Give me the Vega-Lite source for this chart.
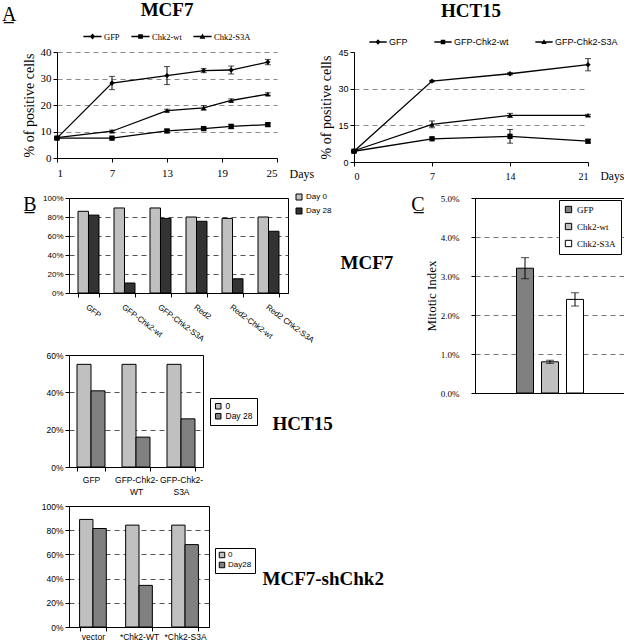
{
 "$schema": "https://vega.github.io/schema/vega-lite/v6.json",
 "background": "white",
 "padding": {"left": 2, "top": 1, "right": 0, "bottom": 0},
 "config": {
  "view": {"stroke": null},
  "font": "Liberation Serif",
  "axis": {"domainColor": "black", "tickColor": "black", "labelColor": "black", "titleColor": "black", "titleFontWeight": "normal", "grid": false},
  "legend": {"labelColor": "black"},
  "title": {"font": "Liberation Serif", "fontWeight": "bold", "color": "black"},
  "text": {"color": "black"}
 },
 "spacing": 10,
 "resolve": {"scale": {"color": "independent", "shape": "independent", "xOffset": "independent"}, "legend": {"color": "independent", "shape": "independent"}},
 "vconcat": [
  {
   "spacing": 5,
   "resolve": {"scale": {"color": "independent", "shape": "independent", "xOffset": "independent"}, "legend": {"color": "independent", "shape": "independent"}},
   "hconcat": [
    {"width": 1, "height": 1,
     "title": {"text": "A\u0332", "anchor": "start", "fontWeight": "normal", "fontSize": 20, "offset": 22},
     "data": {"values": [{"t": ""}]},
     "mark": {"type": "text"},
     "encoding": {"text": {"field": "t", "type": "nominal"}}},
    {
     "width": 220, "height": 106,
     "title": {"text": "MCF7", "fontSize": 19, "offset": 7},
     "data": {"values": [
      {"day": 1, "s": "GFP", "v": 7.5, "e": 0.3},
      {"day": 7, "s": "GFP", "v": 28.3, "e": 2.5},
      {"day": 13, "s": "GFP", "v": 31.1, "e": 3.4},
      {"day": 17, "s": "GFP", "v": 33.0, "e": 0.8},
      {"day": 20, "s": "GFP", "v": 33.2, "e": 1.5},
      {"day": 24, "s": "GFP", "v": 36.2, "e": 1.0},
      {"day": 1, "s": "Chk2-wt", "v": 7.5, "e": 0.3},
      {"day": 7, "s": "Chk2-wt", "v": 7.5, "e": 0.3},
      {"day": 13, "s": "Chk2-wt", "v": 10.2, "e": 0.6},
      {"day": 17, "s": "Chk2-wt", "v": 11.1, "e": 0.5},
      {"day": 20, "s": "Chk2-wt", "v": 11.9, "e": 0.8},
      {"day": 24, "s": "Chk2-wt", "v": 12.6, "e": 0.6},
      {"day": 1, "s": "Chk2-S3A", "v": 7.7, "e": 0.3},
      {"day": 7, "s": "Chk2-S3A", "v": 10.1, "e": 0.4},
      {"day": 13, "s": "Chk2-S3A", "v": 17.9, "e": 0.5},
      {"day": 17, "s": "Chk2-S3A", "v": 18.9, "e": 0.8},
      {"day": 20, "s": "Chk2-S3A", "v": 21.7, "e": 0.6},
      {"day": 24, "s": "Chk2-S3A", "v": 24.1, "e": 0.5}
     ]},
     "encoding": {
      "x": {"field": "day", "type": "quantitative", "scale": {"domain": [1, 25], "nice": false, "zero": false},
       "axis": {"values": [1, 7, 13, 19, 25], "labelFont": "Liberation Serif", "labelFontSize": 11, "labelPadding": 5, "tickSize": 4,
        "title": "Days", "titleFont": "Liberation Serif", "titleFontSize": 12, "titleX": 232, "titleY": 15, "titleAlign": "left", "titleBaseline": "middle"}},
      "y": {"field": "v", "type": "quantitative", "scale": {"domain": [0, 40], "nice": false},
       "axis": {"values": [0, 10, 20, 30, 40], "grid": true, "gridDash": [5, 4], "gridColor": "#8a8a8a",
        "gridOpacity": {"condition": {"test": "datum.value === 0", "value": 0}, "value": 1},
        "labelFont": "Liberation Serif", "labelFontSize": 11, "tickSize": 4,
        "title": "% of positive cells", "titleFont": "Liberation Serif", "titleFontSize": 14, "titlePadding": 4}}
     },
     "resolve": {"scale": {"shape": "independent"}, "legend": {"shape": "independent"}},
     "layer": [
      {"mark": {"type": "line", "color": "black", "strokeWidth": 1.3}, "encoding": {"detail": {"field": "s"}}},
      {"mark": {"type": "errorbar", "ticks": {"size": 6, "color": "black"}, "rule": {"color": "black"}}, "encoding": {"yError": {"field": "e"}, "detail": {"field": "s"}}},
      {"mark": {"type": "point", "filled": true, "opacity": 1, "color": "black", "size": 28},
       "encoding": {"shape": {"field": "s", "type": "nominal", "legend": null,
        "scale": {"domain": ["GFP", "Chk2-wt", "Chk2-S3A"], "range": ["diamond", "square", "triangle-up"]}}}},
      {"transform": [{"filter": "false"}],
       "mark": {"type": "point", "filled": true, "opacity": 1, "color": "black"},
       "encoding": {"shape": {"field": "s", "type": "nominal",
        "scale": {"domain": ["GFP", "Chk2-wt", "Chk2-S3A"], "range": [
         "M-1,-0.075H1V0.075H-1ZM0,-0.33L0.3,0L0,0.33L-0.3,0Z",
         "M-1,-0.075H1V0.075H-1ZM-0.26,-0.26H0.26V0.26H-0.26Z",
         "M-1,-0.075H1V0.075H-1ZM0,-0.33L0.32,0.24H-0.32Z"]},
        "legend": {"orient": "none", "legendX": 26, "legendY": -25, "direction": "horizontal", "title": null,
         "labelFont": "Liberation Serif", "labelFontSize": 8.5, "symbolSize": 330, "symbolFillColor": "black", "symbolStrokeWidth": 0, "columnPadding": 11, "labelOffset": 2}}}}
     ]
    },
    {
     "width": 234, "height": 110,
     "title": {"text": "HCT15", "fontSize": 19, "offset": 12},
     "data": {"values": [
      {"day": 0, "s": "GFP", "v": 4.4, "e": 0.3},
      {"day": 7, "s": "GFP", "v": 33.1, "e": 0.3},
      {"day": 14, "s": "GFP", "v": 36.1, "e": 0.4},
      {"day": 21, "s": "GFP", "v": 39.8, "e": 2.5},
      {"day": 0, "s": "GFP-Chk2-wt", "v": 4.4, "e": 0.3},
      {"day": 7, "s": "GFP-Chk2-wt", "v": 9.5, "e": 0.3},
      {"day": 14, "s": "GFP-Chk2-wt", "v": 10.5, "e": 2.8},
      {"day": 21, "s": "GFP-Chk2-wt", "v": 8.5, "e": 0.7},
      {"day": 0, "s": "GFP-Chk2-S3A", "v": 4.6, "e": 0.3},
      {"day": 7, "s": "GFP-Chk2-S3A", "v": 15.4, "e": 1.4},
      {"day": 14, "s": "GFP-Chk2-S3A", "v": 19.1, "e": 0.8},
      {"day": 21, "s": "GFP-Chk2-S3A", "v": 19.1, "e": 0.4}
     ]},
     "encoding": {
      "x": {"field": "day", "type": "quantitative", "scale": {"domain": [0, 21], "nice": false, "zero": false},
       "axis": {"values": [0, 7, 14, 21], "labelFont": "Liberation Serif", "labelFontSize": 10, "labelPadding": 5, "tickSize": 4,
        "title": "Days", "titleFont": "Liberation Serif", "titleFontSize": 11.5, "titleX": 246, "titleY": 14, "titleAlign": "left", "titleBaseline": "middle"}},
      "y": {"field": "v", "type": "quantitative", "scale": {"domain": [0, 45], "nice": false},
       "axis": {"values": [0, 15, 30, 45], "grid": true, "gridDash": [5, 4], "gridColor": "#8a8a8a",
        "gridOpacity": {"condition": {"test": "datum.value === 0 || datum.value === 45", "value": 0}, "value": 1},
        "labelFont": "Liberation Sans", "labelFontSize": 9, "tickSize": 4,
        "title": "% of positive cells", "titleFont": "Liberation Serif", "titleFontSize": 14, "titlePadding": 4}}
     },
     "resolve": {"scale": {"shape": "independent"}, "legend": {"shape": "independent"}},
     "layer": [
      {"mark": {"type": "line", "color": "black", "strokeWidth": 1.3}, "encoding": {"detail": {"field": "s"}}},
      {"mark": {"type": "errorbar", "ticks": {"size": 6, "color": "black"}, "rule": {"color": "black"}}, "encoding": {"yError": {"field": "e"}, "detail": {"field": "s"}}},
      {"mark": {"type": "point", "filled": true, "opacity": 1, "color": "black", "size": 28},
       "encoding": {"shape": {"field": "s", "type": "nominal", "legend": null,
        "scale": {"domain": ["GFP", "GFP-Chk2-wt", "GFP-Chk2-S3A"], "range": ["diamond", "square", "triangle-up"]}}}},
      {"transform": [{"filter": "false"}],
       "mark": {"type": "point", "filled": true, "opacity": 1, "color": "black"},
       "encoding": {"shape": {"field": "s", "type": "nominal",
        "scale": {"domain": ["GFP", "GFP-Chk2-wt", "GFP-Chk2-S3A"], "range": [
         "M-1,-0.075H1V0.075H-1ZM0,-0.33L0.3,0L0,0.33L-0.3,0Z",
         "M-1,-0.075H1V0.075H-1ZM-0.26,-0.26H0.26V0.26H-0.26Z",
         "M-1,-0.075H1V0.075H-1ZM0,-0.33L0.32,0.24H-0.32Z"]},
        "legend": {"orient": "none", "legendX": 15, "legendY": -19, "direction": "horizontal", "title": null,
         "labelFont": "Liberation Sans", "labelFontSize": 9, "symbolSize": 300, "symbolFillColor": "black", "symbolStrokeWidth": 0, "columnPadding": 26, "labelOffset": 2}}}}
     ]
    }
   ]
  },
  {
   "spacing": 16,
   "resolve": {"scale": {"color": "independent", "shape": "independent", "xOffset": "independent"}, "legend": {"color": "independent", "shape": "independent"}},
   "hconcat": [
    {"width": 4, "height": 1, "data": {"values": [{"t": ""}]}, "mark": {"type": "text"}, "encoding": {"text": {"field": "t", "type": "nominal"}}},
    {
     "spacing": 5,
     "resolve": {"scale": {"color": "independent", "shape": "independent", "xOffset": "independent"}, "legend": {"color": "independent", "shape": "independent"}},
     "vconcat": [
      {
       "spacing": 7,
       "resolve": {"scale": {"color": "independent", "xOffset": "independent"}, "legend": {"color": "independent"}},
       "hconcat": [
        {
         "width": 219, "height": 95,
         "view": {"stroke": "black", "strokeWidth": 1},
         "data": {"values": [
          {"c": "GFP", "d": "Day 0", "v": 0.86}, {"c": "GFP", "d": "Day 28", "v": 0.82},
          {"c": "GFP-Chk2-wt", "d": "Day 0", "v": 0.895}, {"c": "GFP-Chk2-wt", "d": "Day 28", "v": 0.105},
          {"c": "GFP-Chk2-S3A", "d": "Day 0", "v": 0.895}, {"c": "GFP-Chk2-S3A", "d": "Day 28", "v": 0.785},
          {"c": "Red2", "d": "Day 0", "v": 0.8}, {"c": "Red2", "d": "Day 28", "v": 0.755},
          {"c": "Red2-Chk2-wt", "d": "Day 0", "v": 0.785}, {"c": "Red2-Chk2-wt", "d": "Day 28", "v": 0.15},
          {"c": "Red2 Chk2-S3A", "d": "Day 0", "v": 0.8}, {"c": "Red2 Chk2-S3A", "d": "Day 28", "v": 0.65}
         ]},
         "mark": {"type": "bar", "stroke": "black", "strokeWidth": 1},
         "encoding": {
          "x": {"field": "c", "type": "nominal", "sort": null, "scale": {"paddingInner": 0.417, "paddingOuter": 0.25},
           "axis": {"title": null, "labelAngle": 37, "labelFont": "Liberation Sans", "labelFontSize": 8, "tickBand": "extent", "tickSize": 4, "labelPadding": 6}},
          "xOffset": {"field": "d", "type": "nominal", "sort": null},
          "y": {"field": "v", "type": "quantitative", "scale": {"domain": [0, 1], "nice": false},
           "axis": {"values": [0, 0.2, 0.4, 0.6, 0.8, 1], "format": ".0%", "labelFont": "Liberation Sans", "labelFontSize": 8,
            "grid": true, "gridDash": [5, 4], "gridColor": "#555555",
            "gridOpacity": {"condition": {"test": "datum.value === 0 || datum.value === 1", "value": 0}, "value": 1},
            "tickSize": 4, "title": "B\u0332", "titleAngle": 0, "titleX": -39.5, "titleY": 6, "titleAlign": "center", "titleBaseline": "middle",
            "titleFont": "Liberation Serif", "titleFontSize": 20}},
          "color": {"field": "d", "type": "nominal", "scale": {"domain": ["Day 0", "Day 28"], "range": ["#c0c0c0", "#333333"]},
           "legend": {"orient": "none", "legendX": 226, "legendY": -5, "title": null, "labelFont": "Liberation Sans", "labelFontSize": 8,
            "symbolType": "square", "symbolSize": 36, "symbolStrokeColor": "black", "symbolStrokeWidth": 1, "rowPadding": 4, "labelOffset": 3}}
         }
        },
        {"width": 1, "height": 130, "data": {"values": [{"t": "MCF7"}]},
         "mark": {"type": "text", "align": "left", "baseline": "middle", "font": "Liberation Serif", "fontSize": 19, "fontWeight": "bold"},
         "encoding": {"text": {"field": "t", "type": "nominal"}}}
       ]
      },
      {
       "spacing": 14,
       "resolve": {"scale": {"color": "independent", "xOffset": "independent"}, "legend": {"color": "independent"}},
       "hconcat": [
        {
         "width": 134, "height": 112,
         "view": {"stroke": "black", "strokeWidth": 1},
         "data": {"values": [
          {"c": "GFP", "d": "0", "v": 0.55}, {"c": "GFP", "d": "Day 28", "v": 0.408},
          {"c": "GFP-Chk2-WT", "d": "0", "v": 0.55}, {"c": "GFP-Chk2-WT", "d": "Day 28", "v": 0.16},
          {"c": "GFP-Chk2-S3A", "d": "0", "v": 0.55}, {"c": "GFP-Chk2-S3A", "d": "Day 28", "v": 0.258}
         ]},
         "mark": {"type": "bar", "stroke": "black", "strokeWidth": 1},
         "encoding": {
          "x": {"field": "c", "type": "nominal", "sort": null, "scale": {"paddingInner": 0.378, "paddingOuter": 0.178},
           "axis": {"title": null, "labelAngle": 0, "labelFont": "Liberation Sans", "labelFontSize": 8.5, "tickBand": "extent", "tickSize": 4, "labelPadding": 4, "labelLineHeight": 12,
            "labelExpr": "split(replace(datum.label, 'Chk2-', 'Chk2-|'), '|')"}},
          "xOffset": {"field": "d", "type": "nominal", "sort": null},
          "y": {"field": "v", "type": "quantitative", "scale": {"domain": [0, 0.6], "nice": false},
           "axis": {"values": [0, 0.2, 0.4, 0.6], "format": ".0%", "labelFont": "Liberation Sans", "labelFontSize": 8.5,
            "grid": true, "gridDash": [5, 4], "gridColor": "#555555",
            "gridOpacity": {"condition": {"test": "datum.value === 0 || datum.value === 0.6", "value": 0}, "value": 1},
            "tickSize": 4, "title": null}},
          "color": {"field": "d", "type": "nominal", "scale": {"domain": ["0", "Day 28"], "range": ["#c0c0c0", "#808080"]},
           "legend": {"orient": "none", "legendX": 141, "legendY": 43, "title": null, "labelFont": "Liberation Sans", "labelFontSize": 8.5,
            "symbolType": "square", "symbolSize": 30, "symbolStrokeColor": "black", "symbolStrokeWidth": 1, "rowPadding": 0, "labelOffset": 3,
            "strokeColor": "black", "fillColor": "white", "padding": 4}}
         }
        },
        {"width": 1, "height": 138, "data": {"values": [{"t": "HCT15"}]},
         "mark": {"type": "text", "align": "left", "baseline": "middle", "font": "Liberation Serif", "fontSize": 19, "fontWeight": "bold"},
         "encoding": {"text": {"field": "t", "type": "nominal"}}}
       ]
      },
      {
       "spacing": 6,
       "resolve": {"scale": {"color": "independent", "xOffset": "independent"}, "legend": {"color": "independent"}},
       "hconcat": [
        {
         "width": 140, "height": 121,
         "view": {"stroke": "black", "strokeWidth": 1},
         "data": {"values": [
          {"c": "vector", "d": "0", "v": 0.889}, {"c": "vector", "d": "Day28", "v": 0.814},
          {"c": "*Chk2-WT", "d": "0", "v": 0.842}, {"c": "*Chk2-WT", "d": "Day28", "v": 0.344},
          {"c": "*Chk2-S3A", "d": "0", "v": 0.842}, {"c": "*Chk2-S3A", "d": "Day28", "v": 0.681}
         ]},
         "mark": {"type": "bar", "stroke": "black", "strokeWidth": 1},
         "encoding": {
          "x": {"field": "c", "type": "nominal", "sort": null, "scale": {"paddingInner": 0.42, "paddingOuter": 0.23},
           "axis": {"title": null, "labelAngle": 0, "labelFont": "Liberation Sans", "labelFontSize": 8.5, "tickBand": "extent", "tickSize": 4, "labelPadding": 1}},
          "xOffset": {"field": "d", "type": "nominal", "sort": null},
          "y": {"field": "v", "type": "quantitative", "scale": {"domain": [0, 1], "nice": false},
           "axis": {"values": [0, 0.2, 0.4, 0.6, 0.8, 1], "format": ".0%", "labelFont": "Liberation Sans", "labelFontSize": 8.5,
            "grid": true, "gridDash": [5, 4], "gridColor": "#555555",
            "gridOpacity": {"condition": {"test": "datum.value === 0 || datum.value === 1", "value": 0}, "value": 1},
            "tickSize": 4, "title": null}},
          "color": {"field": "d", "type": "nominal", "scale": {"domain": ["0", "Day28"], "range": ["#c0c0c0", "#808080"]},
           "legend": {"orient": "none", "legendX": 146, "legendY": 42, "title": null, "labelFont": "Liberation Sans", "labelFontSize": 8,
            "symbolType": "square", "symbolSize": 30, "symbolStrokeColor": "black", "symbolStrokeWidth": 1, "rowPadding": 0, "labelOffset": 2,
            "strokeColor": "black", "fillColor": "white", "padding": 3}}
         }
        },
        {"width": 1, "height": 146, "data": {"values": [{"t": "MCF7-shChk2"}]},
         "mark": {"type": "text", "align": "left", "baseline": "middle", "font": "Liberation Serif", "fontSize": 19, "fontWeight": "bold"},
         "encoding": {"text": {"field": "t", "type": "nominal"}}}
       ]
      }
     ]
    },
    {
     "width": 150, "height": 195,
     "view": {"stroke": "black", "strokeWidth": 1},
     "data": {"values": [
      {"s": "GFP", "v": 0.032, "e": 0.0027},
      {"s": "Chk2-wt", "v": 0.008, "e": 0.0004},
      {"s": "Chk2-S3A", "v": 0.024, "e": 0.0017}
     ]},
     "encoding": {
      "x": {"field": "s", "type": "nominal", "sort": null, "scale": {"domain": ["p1", "GFP", "Chk2-wt", "Chk2-S3A", "p2"], "paddingInner": 0.32, "paddingOuter": 0.66},
       "axis": {"labels": false, "ticks": false, "domain": false, "title": "C\u0332", "titleX": -57.5, "titleY": -189, "titleAlign": "center", "titleBaseline": "middle",
        "titleFont": "Liberation Serif", "titleFontSize": 20}},
      "y": {"field": "v", "type": "quantitative", "scale": {"domain": [0, 0.05], "nice": false},
       "axis": {"values": [0, 0.01, 0.02, 0.03, 0.04, 0.05], "format": ".1%", "labelFont": "Liberation Serif", "labelFontSize": 9,
        "grid": true, "gridDash": [5, 4], "gridColor": "#777777",
        "gridOpacity": {"condition": {"test": "datum.value === 0 || datum.value === 0.05", "value": 0}, "value": 1},
        "tickSize": 4, "labelPadding": 12, "title": "Mitotic Index", "titleFont": "Liberation Serif", "titleFontSize": 13, "titlePadding": 2}}
     },
     "layer": [
      {"mark": {"type": "bar", "stroke": "black", "strokeWidth": 1},
       "encoding": {"color": {"field": "s", "type": "nominal", "scale": {"domain": ["GFP", "Chk2-wt", "Chk2-S3A"], "range": ["#808080", "#c0c0c0", "#ffffff"]},
        "legend": {"orient": "none", "legendX": 84, "legendY": 2, "title": null, "labelFont": "Liberation Serif", "labelFontSize": 9,
         "symbolType": "square", "symbolSize": 40, "symbolStrokeColor": "black", "symbolStrokeWidth": 1, "rowPadding": 6,
         "strokeColor": "black", "fillColor": "white", "padding": 5}}}},
      {"mark": {"type": "errorbar", "ticks": {"size": 8, "color": "black"}, "rule": {"color": "black"}}, "encoding": {"yError": {"field": "e"}}}
     ]
    }
   ]
  }
 ]
}
